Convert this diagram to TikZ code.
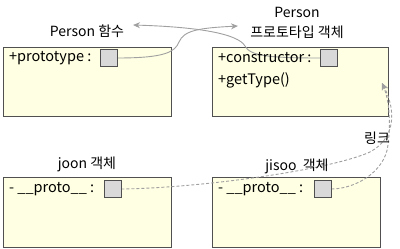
\documentclass[tikz,border=0pt]{standalone}
\usepackage{fontspec}
\setmainfont{Noto Sans CJK KR}
\usetikzlibrary{arrows.meta}
\definecolor{boxfill}{HTML}{FFFFE3}
\definecolor{boxline}{HTML}{505050}
\definecolor{sqfill}{HTML}{D9D9D9}
\definecolor{conn}{HTML}{A0A0A0}
\pgfdeclarelayer{bg}
\pgfdeclarelayer{mid}
\pgfsetlayers{bg,mid,main}
\begin{document}
\begin{tikzpicture}[x=1pt,y=-1pt,
  objbox/.style={draw=boxline, fill=boxfill, line width=0.9pt, anchor=north west, inner sep=0pt},
  slot/.style={draw=boxline, fill=sqfill, line width=0.8pt, minimum size=17pt, inner sep=0pt},
  field/.style={anchor=west, inner sep=0pt, font=\fontsize{14.5}{17}\selectfont},
  title/.style={inner sep=0pt, align=center, font=\fontsize{14}{20}\selectfont},
  link/.style={draw=conn, line width=0.9pt, -{Stealth[length=7pt,width=6pt]}},
  dlink/.style={link, dash pattern=on 3pt off 2pt}]
\useasboundingbox (0,0) rectangle (400,249);
\begin{pgfonlayer}{bg}
\node[objbox, minimum width=168pt, minimum height=69pt] (b1) at (3,47) {};
\node[objbox, minimum width=176pt, minimum height=69pt] (b2) at (212,47) {};
\node[objbox, minimum width=168pt, minimum height=70pt] (b3) at (3,177) {};
\node[objbox, minimum width=168pt, minimum height=70pt] (b4) at (212,177) {};
\end{pgfonlayer}
\node[title] (l1) at (87,31) {Person 함수};
\node[title] (l2) at (297,23) {Person\\프로토타입 객체};
\node[title] (l3) at (87,164) {joon 객체};
\node[title] (l4) at (297,166) {jisoo~ 객체};
\node[title] (l5) at (377,138) {링크};
\node[field] (t1) at (9,58) {+prototype :};
\node[field] (t2) at (218,58) {+constructor :};
\node[field] (t3) at (218,80) {+getType()};
\node[field] (t4) at (9,189) {- \_\_proto\_\_ :};
\node[field] (t5) at (218,189) {- \_\_proto\_\_ :};
\node[slot] (s1) at (108.5,58) {};
\node[slot] (s2) at (329,58) {};
\node[slot] (s3) at (112.5,189) {};
\node[slot] (s4) at (322.5,189) {};
\coordinate (a1) at (238,26);
\coordinate (a2) at (133,25);
\coordinate (tip) at (382,83);
\begin{pgfonlayer}{mid}
\draw[link] (s1.east) .. controls (165,58) and (175,52) .. (179,42) .. controls (184,30) and (200,28) .. (a1);
\draw[link] (s2.west) .. controls (270,58) and (250,56) .. (245,46) .. controls (238,34) and (200,27) .. (a2);
\draw[dlink] (s3.east) .. controls (200,188) and (330,170) .. (370,152) .. controls (396,138) and (396,110) .. (tip);
\draw[dlink] (s4.east) .. controls (355,189) and (385,172) .. (388,145) .. controls (391,120) and (389,100) .. (tip);
\end{pgfonlayer}
\end{tikzpicture}
\end{document}
